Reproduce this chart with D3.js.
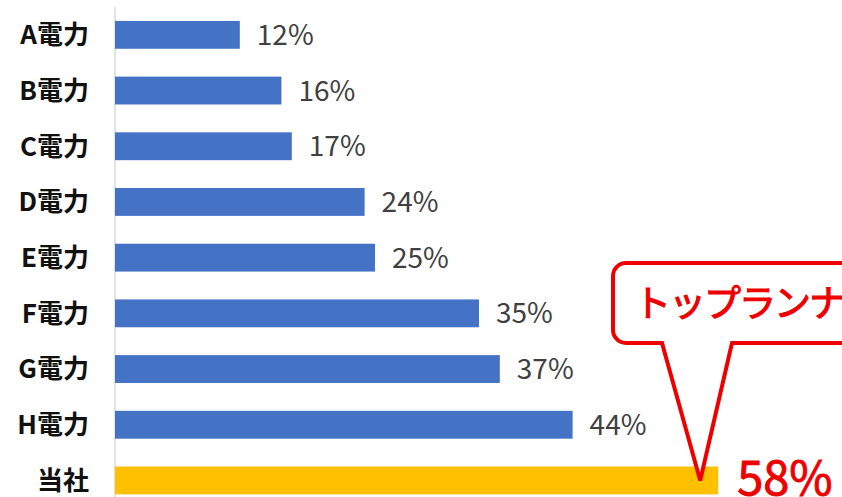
<!DOCTYPE html>
<html>
<head>
<meta charset="utf-8">
<script src="https://cdn.jsdelivr.net/npm/d3@7"></script>
<style>
  html, body { margin: 0; padding: 0; background: #fff; }
  svg { display: block; }
  text { font-family: "Noto Sans CJK JP", "Noto Sans", sans-serif; }
</style>
</head>
<body>
<svg id="chart" width="842" height="497"></svg>
<script>
// Share of each utility (percent)
const categories = ["A電力", "B電力", "C電力", "D電力", "E電力", "F電力", "G電力", "H電力", "当社"];
const values = [12, 16, 17, 24, 25, 35, 37, 44, 58];
const highlight = "当社";
const calloutText = "トップランナー";

const svg = d3.select("#chart");
const W = 842, H = 497;

const x = d3.scaleLinear().domain([0, 60]).range([115, 739]);
const y = d3.scaleBand()
  .domain(categories)
  .range([7, 508.3])
  .paddingInner(0.5)
  .paddingOuter(0.25);

const data = categories.map((c, i) => ({ cat: c, val: values[i] }));

// vertical axis line
svg.append("line")
  .attr("x1", x(0)).attr("x2", x(0))
  .attr("y1", 7).attr("y2", H)
  .attr("stroke", "#d9d9d9").attr("stroke-width", 1.5);

// bars
svg.selectAll("rect.bar").data(data).join("rect")
  .attr("class", "bar")
  .attr("x", x(0))
  .attr("y", d => y(d.cat))
  .attr("width", d => x(d.val) - x(0))
  .attr("height", y.bandwidth())
  .attr("fill", d => d.cat === highlight ? "#FFC000" : "#4472C4");

// category labels
svg.selectAll("text.cat").data(data).join("text")
  .attr("class", "cat")
  .attr("x", 89)
  .attr("y", d => y(d.cat) + y.bandwidth() / 2)
  .attr("dy", "0.36em")
  .attr("text-anchor", "end")
  .attr("font-size", 26)
  .attr("font-weight", 700)
  .attr("fill", "#111")
  .text(d => d.cat);

// value labels (regular bars)
svg.selectAll("text.val").data(data.filter(d => d.cat !== highlight)).join("text")
  .attr("class", "val")
  .attr("x", d => x(d.val) + 17)
  .attr("y", d => y(d.cat) + y.bandwidth() / 2)
  .attr("dy", "0.36em")
  .attr("font-size", 28)
  .attr("fill", "#404040")
  .text(d => d.val + "%");

// callout bubble pointing at the highlighted bar
const hi = data.find(d => d.cat === highlight);
const tipX = x(hi.val) - 18, tipY = y(hi.cat) + 14;
const bx0 = 613, by0 = 263, by1 = 343, r = 13;
const baseL = 662, baseR = 732;
const p = d3.path();
p.moveTo(baseR, by1);
p.lineTo(W + 20, by1);
p.lineTo(W + 20, by0);
p.lineTo(bx0 + r, by0);
p.arcTo(bx0, by0, bx0, by0 + r, r);
p.lineTo(bx0, by1 - r);
p.arcTo(bx0, by1, bx0 + r, by1, r);
p.lineTo(baseL, by1);
p.lineTo(tipX, tipY);
p.closePath();
svg.append("path")
  .attr("d", p.toString())
  .attr("fill", "#fff")
  .attr("stroke", "#ee0000")
  .attr("stroke-width", 4)
  .attr("stroke-linejoin", "miter");

svg.append("text")
  .attr("x", 634)
  .attr("y", (by0 + by1) / 2)
  .attr("dy", "0.38em")
  .attr("font-size", 37)
  .attr("font-weight", 400)
  .attr("letter-spacing", -2)
  .attr("fill", "#ee0000")
  .attr("stroke", "#ee0000")
  .attr("stroke-width", 1.1)
  .text(calloutText);

// highlighted value
svg.append("text")
  .attr("x", x(hi.val) + 19)
  .attr("y", 495)
  .attr("font-size", 47)
  .attr("fill", "#ee0000")
  .attr("stroke", "#ee0000")
  .attr("stroke-width", 0.9)
  .text(hi.val + "%");
</script>
</body>
</html>
